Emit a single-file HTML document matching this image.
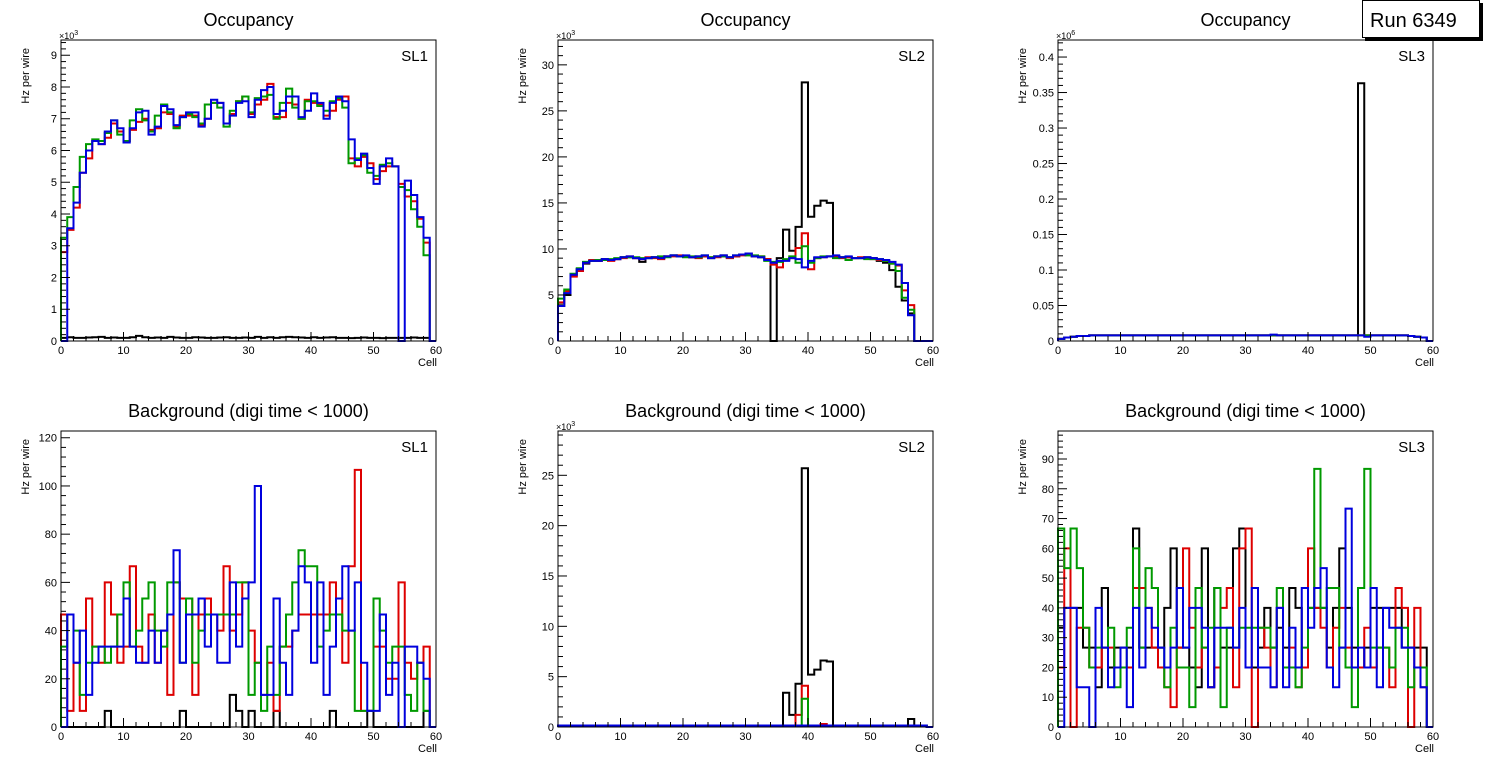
<!DOCTYPE html>
<html><head><meta charset="utf-8"><style>
body{margin:0;background:#fff;width:1496px;height:772px;overflow:hidden}
svg{display:block;font-family:"Liberation Sans",sans-serif}
</style></head><body>
<svg id="c" width="1496" height="772" viewBox="0 0 1496 772"></svg>
<script>
const cells = 60;
const xTicks = [0,10,20,30,40,50,60];
// Panel 1 (Occupancy SL1, x10^3)
const p1Black = [0.1,0.12,0.1,0.1,0.11,0.12,0.13,0.1,0.11,0.1,0.1,0.12,0.16,0.12,0.1,0.11,0.1,0.13,0.11,0.1,0.1,0.12,0.11,0.1,0.1,0.11,0.12,0.1,0.1,0.11,0.1,0.13,0.1,0.12,0.1,0.12,0.13,0.12,0.11,0.1,0.12,0.1,0.11,0.12,0.1,0.1,0.09,0.1,0.11,0.1,0.1,0.09,0.1,0.1,0.1,0.1,0.11,0.1,0.1,0];
const p1Red = [2.8,3.5,4.2,5.3,5.75,6.3,6.2,6.4,6.85,6.6,6.3,6.65,6.9,7.0,6.65,6.7,7.2,7.15,6.75,7.1,7.1,7.1,6.8,7.0,7.5,7.5,6.85,7.15,7.55,7.7,7.15,7.45,7.6,8.1,7.05,7.05,7.5,7.45,7.0,7.6,7.5,7.45,7.1,7.25,7.6,7.7,5.75,5.5,5.8,5.6,5.1,5.35,5.5,5.5,4.95,4.55,4.4,3.85,3.1,0];
const p1Green = [3.25,3.9,4.85,5.8,6.2,6.35,6.3,6.55,6.95,6.5,6.3,6.95,7.3,6.95,6.6,7.1,7.45,7.2,6.7,7.05,7.15,7.05,6.85,7.45,7.5,7.35,6.75,7.25,7.55,7.7,7.2,7.65,7.7,7.75,7.0,7.5,7.95,7.35,7.0,7.55,7.55,7.4,7.25,7.55,7.65,7.35,5.6,5.75,5.85,5.3,5.2,5.55,5.6,5.5,4.85,4.75,4.15,3.6,2.7,0];
const p1Blue = [0,3.55,4.36,5.3,6.0,6.3,6.2,6.6,6.95,6.7,6.25,6.7,7.2,7.25,6.5,6.75,7.4,7.3,6.8,7.05,7.2,7.2,6.75,7.0,7.6,7.5,6.85,7.1,7.5,7.55,7.05,7.6,7.9,8.0,7.15,7.25,7.7,7.7,7.05,7.25,7.8,7.5,7.0,7.5,7.7,7.55,6.35,5.7,5.9,5.45,4.95,5.5,5.75,5.5,0,5.05,4.6,3.9,3.25,0];
// Panel 2 (Occupancy SL2, x10^3)
const p2Black = [3.8,5.0,7.1,7.8,8.4,8.7,8.7,8.9,8.8,8.9,9.1,9.1,9.0,8.6,9.0,9.1,9.0,9.2,9.3,9.2,9.2,9.1,9.2,9.2,9.0,9.2,9.3,9.1,9.2,9.4,9.5,9.2,9.1,8.9,0,9.0,12.1,9.8,12.4,28.1,13.5,14.7,15.25,15.0,9.2,9.1,9.1,9.0,9.0,9.1,9.0,8.7,8.5,7.7,5.9,4.4,3.0,0,0,0];
const p2Red = [4.2,5.4,7.0,7.6,8.5,8.8,8.7,8.8,8.7,8.9,9.0,9.2,9.0,8.9,9.1,9.0,8.9,9.2,9.2,9.3,9.2,9.1,9.0,9.2,9.1,9.1,9.2,9.0,9.2,9.3,9.4,9.2,9.2,8.9,8.3,8.0,8.8,9.0,10.1,11.7,7.8,9.0,9.1,9.2,9.2,9.0,9.1,9.0,9.1,9.0,8.9,8.8,8.7,8.4,8.2,5.5,3.9,0,0,0];
const p2Green = [4.6,5.6,7.3,7.9,8.6,8.7,8.8,8.8,8.9,9.0,9.1,9.1,9.1,9.0,9.0,9.1,9.2,9.1,9.3,9.2,9.1,9.2,9.1,9.3,9.1,9.2,9.2,9.1,9.3,9.4,9.3,9.3,9.2,8.7,8.6,8.6,8.9,9.2,8.5,10.3,8.5,9.0,9.2,9.2,9.0,9.1,8.8,9.0,9.0,8.9,8.9,8.9,8.7,8.4,7.6,4.7,3.4,0,0,0];
const p2Blue = [3.8,5.2,7.2,7.8,8.5,8.7,8.7,8.9,8.8,8.9,9.1,9.2,9.0,8.9,9.0,9.1,9.0,9.2,9.3,9.2,9.3,9.1,9.2,9.3,9.0,9.2,9.3,9.1,9.3,9.4,9.5,9.2,9.1,8.8,8.5,8.7,8.7,9.0,8.9,8.0,8.7,9.1,9.1,9.2,9.3,9.1,9.2,9.0,9.0,9.1,9.0,8.9,8.8,8.6,8.3,6.3,2.8,0,0,0];
// Panel 3 (Occupancy SL3, x10^6)
const p3Black = [0.003,0.005,0.006,0.007,0.007,0.008,0.008,0.008,0.008,0.008,0.008,0.008,0.008,0.008,0.008,0.008,0.008,0.008,0.008,0.008,0.008,0.008,0.008,0.008,0.008,0.008,0.008,0.008,0.008,0.008,0.008,0.008,0.008,0.008,0.008,0.008,0.008,0.008,0.008,0.008,0.008,0.008,0.008,0.008,0.008,0.008,0.008,0.008,0.363,0.008,0.008,0.008,0.008,0.008,0.008,0.008,0.007,0.006,0.005,0];
const p3Red = [0.003,0.005,0.006,0.007,0.007,0.008,0.008,0.008,0.008,0.008,0.008,0.008,0.008,0.008,0.008,0.008,0.008,0.008,0.008,0.008,0.008,0.008,0.008,0.008,0.008,0.008,0.008,0.008,0.008,0.008,0.008,0.008,0.008,0.008,0.008,0.008,0.008,0.008,0.008,0.008,0.008,0.008,0.008,0.008,0.008,0.008,0.008,0.008,0.008,0.008,0.008,0.008,0.008,0.008,0.008,0.008,0.007,0.006,0.005,0];
const p3Green = p3Red.slice();
const p3Blue = [0.003,0.005,0.006,0.007,0.007,0.008,0.008,0.008,0.008,0.008,0.008,0.008,0.008,0.008,0.008,0.008,0.008,0.008,0.008,0.008,0.008,0.008,0.008,0.008,0.008,0.008,0.008,0.008,0.008,0.008,0.008,0.008,0.008,0.008,0.009,0.008,0.008,0.008,0.008,0.008,0.008,0.008,0.008,0.008,0.008,0.008,0.008,0.008,0.008,0.006,0.008,0.008,0.008,0.008,0.008,0.008,0.007,0.006,0.005,0];
// Bottom 1 (Background SL1), levels of 6.667 Hz
const b1Black = [0,0,0,0,0,0,0,1,0,0,0,0,0,0,0,0,0,0,0,1,0,0,0,0,0,0,0,2,1,0,1,0,0,0,1,0,0,0,0,0,0,0,0,1,0,0,0,0,0,1,0,0,0,0,0,0,0,0,1,0];
const b1Red = [7,1,4,1,8,5,4,9,7,4,5,10,5,4,7,4,6,2,9,8,8,2,7,8,7,6,10,6,7,9,6,4,2,4,1,5,5,6,7,7,7,7,7,9,8,4,10,16,1,1,5,5,3,3,9,4,3,4,5,0];
const b1Green = [5,7,6,2,4,5,5,4,5,7,9,5,6,8,9,6,5,9,9,4,8,4,6,7,7,7,7,7,9,9,2,4,1,5,2,5,7,9,11,10,10,5,6,7,7,6,6,1,1,1,8,6,4,5,5,2,1,4,1,0];
const b1Blue = [0,7,4,6,2,4,5,5,5,5,8,5,4,4,6,4,6,7,11,4,7,7,8,5,7,4,4,9,5,8,9,15,2,2,8,4,2,6,10,9,4,9,2,5,8,10,6,9,4,1,1,7,2,4,0,5,5,4,3,0];
// Bottom 2 (Background SL2, x10^3)
const b2Black = [0.15,0.15,0.15,0.15,0.15,0.15,0.15,0.15,0.15,0.15,0.15,0.15,0.15,0.15,0.15,0.15,0.15,0.15,0.15,0.15,0.15,0.15,0.15,0.15,0.15,0.15,0.15,0.15,0.15,0.15,0.15,0.15,0.15,0.15,0.15,0.15,3.4,1.2,4.3,25.7,5.2,5.7,6.6,6.5,0.15,0.15,0.15,0.15,0.15,0.15,0.15,0.15,0.15,0.15,0.15,0.15,0.8,0.15,0.15,0];
const b2Red = [0.15,0.15,0.15,0.15,0.15,0.15,0.15,0.15,0.15,0.15,0.15,0.15,0.15,0.15,0.15,0.15,0.15,0.15,0.15,0.15,0.15,0.15,0.15,0.15,0.15,0.15,0.15,0.15,0.15,0.15,0.15,0.15,0.15,0.15,0.15,0.15,0.15,0.15,1.2,4.1,0.15,0.15,0.3,0.15,0.15,0.15,0.15,0.15,0.15,0.15,0.15,0.15,0.15,0.15,0.15,0.15,0.15,0.15,0.15,0];
const b2Green = [0.15,0.15,0.15,0.15,0.15,0.15,0.15,0.15,0.15,0.15,0.15,0.15,0.15,0.15,0.15,0.15,0.15,0.15,0.15,0.15,0.15,0.15,0.15,0.15,0.15,0.15,0.15,0.15,0.15,0.15,0.15,0.15,0.15,0.15,0.15,0.15,0.15,0.15,0.15,2.8,0.15,0.15,0.15,0.15,0.15,0.15,0.15,0.15,0.15,0.15,0.15,0.15,0.15,0.15,0.15,0.15,0.15,0.15,0.15,0];
const b2Blue = [0.15,0.15,0.15,0.15,0.15,0.15,0.15,0.15,0.15,0.15,0.15,0.15,0.15,0.15,0.15,0.15,0.15,0.15,0.15,0.15,0.15,0.15,0.15,0.15,0.15,0.15,0.15,0.15,0.15,0.15,0.15,0.15,0.15,0.15,0.15,0.15,0.15,0.15,0.15,0.15,0.15,0.15,0.15,0.15,0.15,0.15,0.15,0.15,0.15,0.15,0.15,0.15,0.15,0.15,0.15,0.15,0.15,0.15,0.15,0];
// Bottom 3 (Background SL3), levels of 6.667 Hz
const b3Black = [5,6,6,6,4,4,2,7,3,4,4,4,10,4,4,4,4,6,9,4,4,3,2,9,2,7,4,4,9,10,3,3,4,6,4,5,4,7,6,3,6,6,6,4,6,9,6,4,3,4,6,6,6,6,6,4,4,4,4,0];
const b3Red = [3,9,0,5,5,3,3,4,4,3,3,3,7,7,6,4,3,2,1,4,9,5,3,4,2,3,6,7,2,9,10,0,5,4,2,6,3,4,2,3,9,6,5,3,5,6,4,3,3,5,3,4,4,2,7,6,0,6,2,0];
const b3Green = [10,8,10,8,5,3,4,4,5,2,3,5,9,4,8,7,4,2,5,3,3,1,7,4,5,7,1,5,4,5,5,5,5,5,4,7,3,3,2,4,6,13,6,7,7,4,3,1,7,13,4,4,4,3,5,5,2,3,3,0];
const b3Blue = [0,6,6,2,2,0,6,4,2,3,4,1,6,3,6,5,4,3,4,7,4,6,6,5,2,5,5,5,4,6,3,7,3,3,2,6,2,5,3,7,5,7,8,3,2,4,11,3,4,3,7,2,6,5,5,4,4,3,2,0];
const lvl = 20/3;

const NS = "http://www.w3.org/2000/svg";
const svg = document.getElementById('c');
function el(tag, attrs, parent, text){
  const e = document.createElementNS(NS, tag);
  for (const k in attrs) e.setAttribute(k, attrs[k]);
  if (text !== undefined) e.textContent = text;
  (parent||svg).appendChild(e);
  return e;
}
const W = 375;
const colors = ['#000000','#dd0000','#009900','#0000dd'];
const sNames = ['black','red','green','blue'];

function panel(id, x0, y0, h, ymax, major, minor, fmt, mult, title, sl, series, scale){
  const g = el('g', {}, svg);
  
  
  const xs = v => x0 + v / cells * W;
  const ys = v => y0 + h - v / ymax * h;
  const t = el('text', {x: x0 + W/2, y: y0 - 14, 'text-anchor':'middle', 'font-size':18}, g, title);
  
  
  // series
  series.forEach((arr, si) => {
    let d = 'M' + xs(0) + ' ' + ys(0);
    for (let i = 0; i < cells; i++){
      const v = (arr[i] || 0) * scale;
      d += ' L' + xs(i) + ' ' + ys(v) + ' L' + xs(i+1) + ' ' + ys(v);
    }
    d += ' L' + xs(cells) + ' ' + ys(0);
    const p = el('path', {d: d, fill:'none', stroke: colors[si], 'stroke-width':2}, g);
    
    
  });
  const fr = el('rect', {x:x0, y:y0, width:W, height:h, fill:'none', stroke:'#000', 'stroke-width':1}, g);
  
  
  // x ticks
  for (let v = 0; v <= cells + 0.001; v += 2){
    const isMaj = Math.abs(v % 10) < 0.001;
    el('line', {x1: xs(v), x2: xs(v), y1: y0+h, y2: y0+h-(isMaj?9:5), stroke:'#000'}, g);
  }
  xTicks.forEach(v => {
    const tl = el('text', {x: xs(v), y: y0+h+13, 'text-anchor':'middle', 'font-size':11}, g, String(v));
    
    
  });
  const xt = el('text', {x: x0+W+1, y: y0+h+25, 'text-anchor':'end', 'font-size':11}, g, 'Cell');
  
  
  // y ticks
  for (let k = 0; k * minor <= ymax + 1e-9; k++){
    const v = k * minor;
    const ratio = major / minor;
    const isMaj = k % Math.round(ratio) === 0;
    el('line', {x1: x0, x2: x0 + (isMaj?9:5), y1: ys(v), y2: ys(v), stroke:'#000'}, g);
    if (isMaj){
      const yl = el('text', {x: x0-4, y: ys(v)+4, 'text-anchor':'end', 'font-size':11}, g, fmt(v));
      
      
    }
  }
  const yt = el('text', {x: x0-32, y: y0+8, 'text-anchor':'end', 'font-size':11, transform:'rotate(-90 '+(x0-32)+' '+(y0+8)+')'}, g, 'Hz per wire');
  
  
  if (mult){
    const m = el('text', {x: x0-2, y: y0-1, 'font-size':9}, g);
    
    
    el('tspan', {}, m, '×10');
    el('tspan', {dy:-4, 'font-size':7}, m, mult);
  }
  const s = el('text', {x: x0+W-8, y: y0+21, 'text-anchor':'end', 'font-size':15}, g, sl);
  
  
}
const f0 = v => String(Math.round(v));
const f2 = v => v === 0 ? '0' : String(+v.toFixed(2));
panel('occupancy-sl1', 61, 40, 301, 9.48, 1, 0.2, f0, '3', 'Occupancy', 'SL1', [p1Black,p1Red,p1Green,p1Blue], 1);
panel('occupancy-sl2', 558, 40, 301, 32.7, 5, 1, f0, '3', 'Occupancy', 'SL2', [p2Black,p2Red,p2Green,p2Blue], 1);
panel('occupancy-sl3', 1058, 40, 301, 0.424, 0.05, 0.01, f2, '6', 'Occupancy', 'SL3', [p3Black,p3Red,p3Green,p3Blue], 1);
panel('background-sl1', 61, 431, 296, 122.8, 20, 4, f0, '', 'Background (digi time < 1000)', 'SL1', [b1Black,b1Red,b1Green,b1Blue], lvl);
panel('background-sl2', 558, 431, 296, 29.4, 5, 1, f0, '3', 'Background (digi time < 1000)', 'SL2', [b2Black,b2Red,b2Green,b2Blue], 1);
panel('background-sl3', 1058, 431, 296, 99.4, 10, 2, f0, '', 'Background (digi time < 1000)', 'SL3', [b3Black,b3Red,b3Green,b3Blue], lvl);
// run box
const rb = el('g', {});


el('rect', {x:1365, y:3, width:118, height:38, fill:'#000'}, rb);
el('rect', {x:1362.5, y:0.5, width:117, height:37, fill:'#fff', stroke:'#000'}, rb);
const rt = el('text', {x:1370, y:27, 'font-size':20}, rb, 'Run 6349');


</script>
</body></html>
